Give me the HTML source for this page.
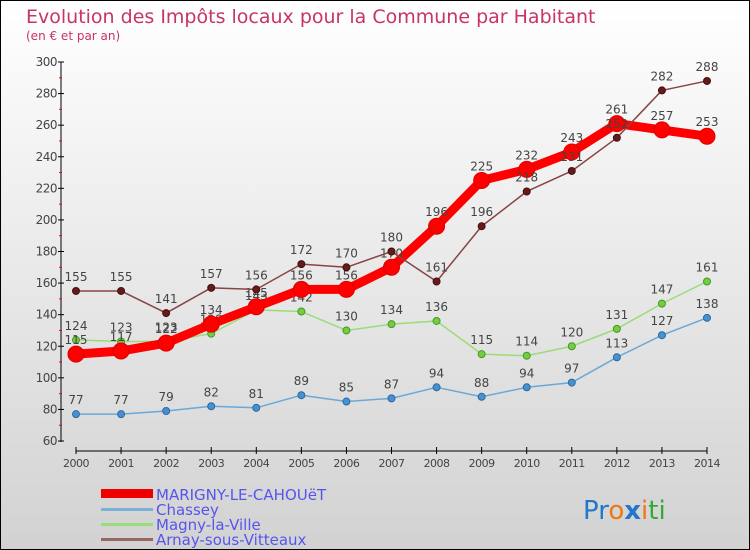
<!DOCTYPE html>
<html><head><meta charset="utf-8"><style>
body{margin:0}
#wrap{width:750px;height:550px;position:relative;overflow:hidden;background:linear-gradient(#ffffff,#d2d2d2);font-family:"DejaVu Sans","Liberation Sans",sans-serif;box-sizing:border-box;border:1px solid #000}
</style></head><body>
<div id="wrap">
<svg id="svg" width="750" height="550" style="position:absolute;left:0;top:0">
<text x="25" y="22" font-size="19" fill="#c8336a">Evolution des Impôts locaux pour la Commune par Habitant</text>
<text x="25" y="39" font-size="12" fill="#c8336a">(en € et par an)</text>
<g id="axes"></g><g id="series"></g>
<g font-size="15" fill="#5555ee">
<rect x="100" y="488" width="52" height="9" fill="#ee0000"/>
<text x="155" y="499">MARIGNY-LE-CAHOUëT</text>
<rect x="100" y="507" width="52" height="3" fill="#7fb0d8"/>
<text x="155" y="514">Chassey</text>
<rect x="100" y="522" width="52" height="3" fill="#99dd77"/>
<text x="155" y="529">Magny-la-Ville</text>
<rect x="100" y="537" width="52" height="3" fill="#996666"/>
<text x="155" y="544">Arnay-sous-Vitteaux</text>
</g>
<text x="582" y="518" font-size="26" font-family="'DejaVu Sans',sans-serif"><tspan fill="#2277cc">Pr</tspan><tspan fill="#ee7711">o</tspan><tspan fill="#2277cc" font-weight="bold">x</tspan><tspan fill="#ee7711">i</tspan><tspan fill="#33aa33">ti</tspan></text>
</svg>
</div>
<script>
const years=[2000,2001,2002,2003,2004,2005,2006,2007,2008,2009,2010,2011,2012,2013,2014];
const yTicks=[60,80,100,120,140,160,180,200,220,240,260,280,300];
const marigny=[115,117,122,134,145,156,156,170,196,225,232,243,261,257,253];
const chassey=[77,77,79,82,81,89,85,87,94,88,94,97,113,127,138];
const magny=[124,123,123,128,143,142,130,134,136,115,114,120,131,147,161];
const arnay=[155,155,141,157,156,172,170,180,161,196,218,231,252,282,288];
const NS="http://www.w3.org/2000/svg";
function xs(i){return 75+i*(706-75)/(years.length-1);}
function ys(v){return 440-(v-60)*(440-61)/240;}
function mk(tag,attrs,parent){const e=document.createElementNS(NS,tag);for(const k in attrs)e.setAttribute(k,attrs[k]);parent.appendChild(e);return e;}
const ax=document.getElementById('axes');
let l=mk('line',{x1:60,y1:61,x2:60,y2:441,stroke:'#000','stroke-width':1},ax);


l=mk('line',{x1:75,y1:450,x2:706,y2:450,stroke:'#000','stroke-width':1},ax);


yTicks.forEach((v,i)=>{const y=ys(v);
 mk('line',{x1:57,y1:y,x2:63,y2:y,stroke:'#000'},ax);
 if(i<yTicks.length-1)mk('line',{x1:58,y1:ys(v+10),x2:61,y2:ys(v+10),stroke:'#ff0000'},ax);
 const t=mk('text',{x:56,y:y+4,'text-anchor':'end','font-size':12,fill:'#444','letter-spacing':'-0.5'},ax);t.textContent=v;
 
 
});
years.forEach((yr,i)=>{const x=xs(i);
 mk('line',{x1:x,y1:446,x2:x,y2:453,stroke:'#000'},ax);
 const t=mk('text',{x:x,y:466,'text-anchor':'middle','font-size':11,fill:'#444','letter-spacing':'-0.5'},ax);t.textContent=yr;
 
 
});
const sg=document.getElementById('series');
function draw(name,data,color,lw,r,fill,stroke){
 const g=mk('g',{},sg);
 
 
 const p=mk('polyline',{points:data.map((v,i)=>xs(i)+','+ys(v)).join(' '),fill:'none',stroke:color,'stroke-width':lw,'stroke-linejoin':'round'},g);
 
 
 data.forEach((v,i)=>{
  const c=mk('circle',{cx:xs(i),cy:ys(v),r:r,fill:fill,stroke:stroke,'stroke-width':1},g);
  
  
  const t=mk('text',{x:xs(i),y:ys(v)-10,'text-anchor':'middle','font-size':12,fill:'#444'},g);t.textContent=v;
  
  
 });
}
draw('chassey',chassey,'#6aa8d8',1.5,3.5,'#4a90d0','#2a6aa0');
draw('magny',magny,'#99dd77',1.5,3.5,'#77cc44','#449922');
draw('marigny',marigny,'#ff0000',9,8,'#ff0000','#dd0000');
draw('arnay',arnay,'#884444',1.5,3.5,'#661a1a','#441010');
</script>
</body></html>
